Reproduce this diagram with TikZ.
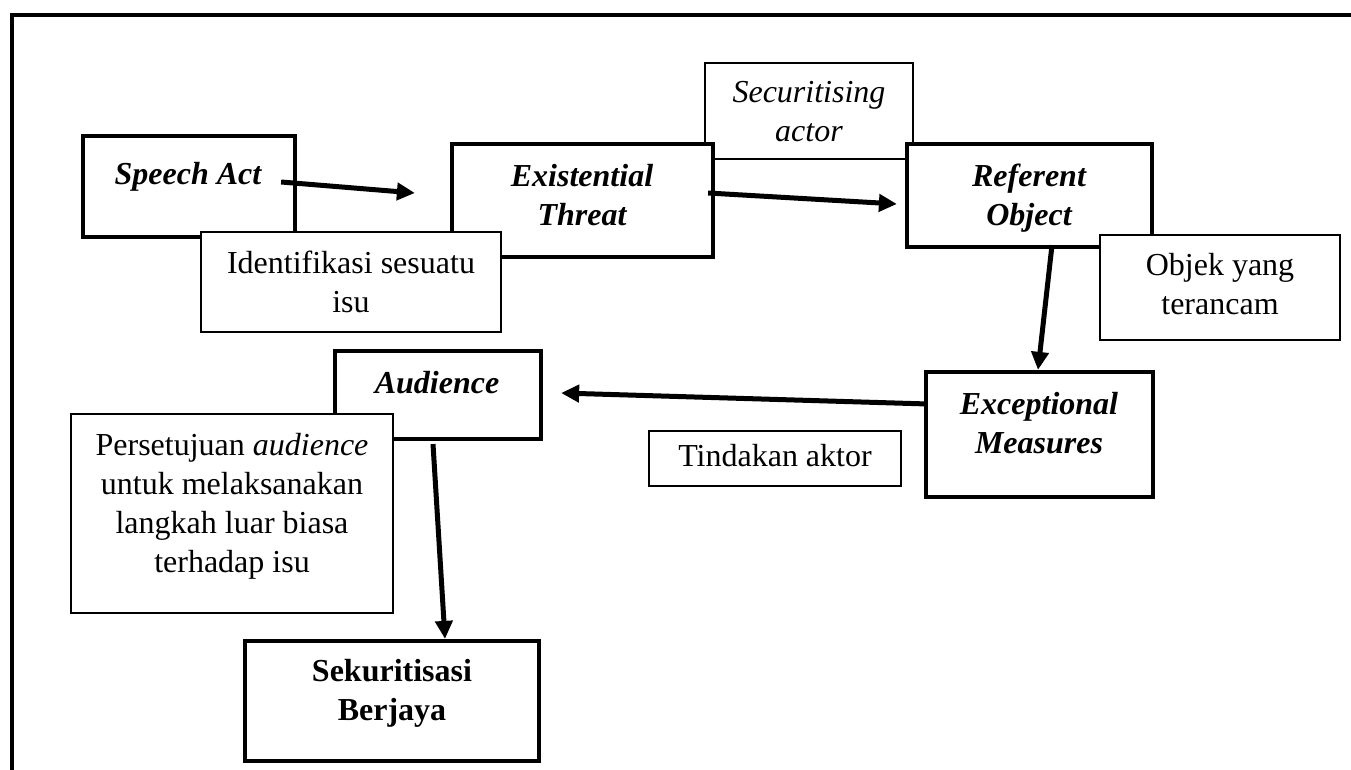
\documentclass[tikz,border=0pt]{standalone}
\usepackage{fontspec}
\setmainfont{Liberation Serif}
\usetikzlibrary{arrows.meta,calc}
\begin{document}
\begin{tikzpicture}[x=1pt,y=-1pt,
  thickbox/.style={draw, line width=4.2pt, fill=white, inner sep=0pt, rectangle},
  thinbox/.style={draw, line width=2.6pt, fill=white, inner sep=0pt, rectangle},
  lbl/.style={font=\fontsize{32}{39}\selectfont, align=center, anchor=base, inner sep=0pt},
  arr/.style={line width=5pt, -{Triangle[length=18pt,width=17pt]}},
  frame/.style={line width=4pt}
]
\useasboundingbox (0,0) rectangle (1351,770);
\coordinate (fb) at (12,790);
\coordinate (fc) at (12,15);
\coordinate (fr) at (1370,15);
\draw[frame] (fb) -- (fc) -- (fr);

% Securitising actor (behind)
\node[thinbox, minimum width=208pt, minimum height=96pt] (sc) at (809,111) {};
\node[lbl, font=\fontsize{32}{39}\selectfont\itshape] (sct) at (809,142) {Securitising\\actor};

% Speech Act
\node[thickbox, minimum width=212pt, minimum height=101pt] (sa) at (189,186.5) {};
\node[lbl, font=\fontsize{32}{39}\selectfont\bfseries\itshape] (sat) at (188,185) {Speech Act};

% Existential Threat
\node[thickbox, minimum width=261pt, minimum height=113pt] (et) at (582.5,200.5) {};
\node[lbl, font=\fontsize{32}{39}\selectfont\bfseries\itshape] (ett) at (582,225) {Existential\\Threat};

% Referent Object
\node[thickbox, minimum width=245pt, minimum height=103pt] (ro) at (1029.5,195.5) {};
\node[lbl, font=\fontsize{32}{39}\selectfont\bfseries\itshape] (rot) at (1029,225) {Referent\\Object};

% Identifikasi
\node[thinbox, minimum width=300pt, minimum height=100pt] (id) at (351,282) {};
\node[lbl] (idt) at (351,312) {Identifikasi sesuatu\\isu};

% Objek yang terancam
\node[thinbox, minimum width=240pt, minimum height=105pt] (ob) at (1220,287.5) {};
\node[lbl] (obt) at (1220,314) {Objek yang\\terancam};

% Exceptional Measures
\node[thickbox, minimum width=227pt, minimum height=125pt] (em) at (1039.5,434.5) {};
\node[lbl, font=\fontsize{32}{39}\selectfont\bfseries\itshape] (emt) at (1039,453) {Exceptional\\Measures};

% Tindakan aktor
\node[thinbox, minimum width=252pt, minimum height=55pt] (ta) at (775,458.5) {};
\node[lbl] (tat) at (775,466) {Tindakan aktor};

% Audience
\node[thickbox, minimum width=206pt, minimum height=88pt] (au) at (438,395) {};
\node[lbl, font=\fontsize{32}{39}\selectfont\bfseries\itshape] (aut) at (437,393) {Audience};

% Persetujuan
\node[thinbox, minimum width=322pt, minimum height=199pt] (ps) at (232,513.5) {};
\node[lbl] (pst) at (232,572) {Persetujuan \textit{audience}\\untuk melaksanakan\\langkah luar biasa\\terhadap isu};

% Sekuritisasi Berjaya
\node[thickbox, minimum width=294pt, minimum height=120pt] (sb) at (392,701) {};
\node[lbl, font=\fontsize{32}{39}\selectfont\bfseries] (sbt) at (392,720) {Sekuritisasi\\Berjaya};

% Arrows
\draw[arr] ($(sa.east)+(-16,-4.5)$) -- ($(et.west)+(-35,-7.5)$);
\draw[arr] ($(et.east)+(-7,-7.5)$) -- ($(ro.west)+(-8,8.5)$);
\draw[arr] ($(ro.south)+(22.5,-4)$) -- ($(em.north)+(-1.5,0)$);
\draw[arr] ($(em.west)+(4,-30.5)$) -- ($(au.east)+(18,-2)$);
\draw[arr] ($(au.south)+(-5,3)$) -- ($(sb.north)+(53,0)$);
\end{tikzpicture}
\end{document}
